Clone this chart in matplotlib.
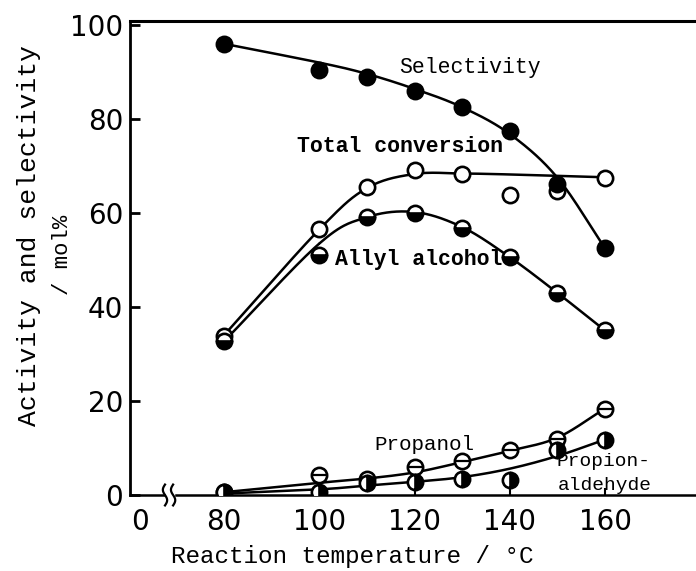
import numpy as np
import matplotlib
matplotlib.use("Agg")
import matplotlib.pyplot as plt
from matplotlib import transforms

# reaction temperature / degC
temps = [80, 100, 110, 120, 130, 140, 150, 160]

# measured points (mol%)
selectivity = [96.0, 90.5, 89.0, 86.0, 82.5, 77.5, 66.2, 52.5]
total_conv = [33.8, 56.5, 65.5, 69.2, 68.4, 63.9, 64.7, 67.5]
allyl = [32.7, 51.0, 59.1, 60.1, 56.8, 50.6, 43.0, 35.0]
propanol = [0.6, 4.2, 3.4, 5.9, 7.2, 9.5, 12.0, 18.4]
propanal = [0.6, 0.6, 2.6, 2.8, 3.4, 3.2, 9.5, 11.8]

selectivity_line = [96.0, 92.0, 89.6, 86.4, 82.5, 76.8, 67.5, 52.5]
total_line = [34.0, 56.5, 65.3, 68.3, 68.4, 68.2, 67.9, 67.6]
allyl_line = [32.7, 53.5, 59.1, 60.2, 57.0, 50.6, 43.0, 35.0]
propanol_line = [0.6, 2.6, 3.5, 4.8, 7.0, 9.4, 12.2, 18.4]
propanal_line = [0.3, 1.2, 2.0, 2.8, 3.8, 5.6, 8.3, 11.8]

xtick_vals = [0, 80, 100, 120, 140, 160]
ytick_vals = [0, 20, 40, 60, 80, 100]

W, H = 696, 571
mono = "Liberation Mono"


def catmull(xs, ys, n=30):
    p = np.column_stack([xs, ys]).astype(float)
    p = np.vstack([2 * p[0] - p[1], p, 2 * p[-1] - p[-2]])
    out = []
    t = np.linspace(0, 1, n)[:, None]
    for i in range(1, len(p) - 2):
        p0, p1, p2, p3 = p[i - 1], p[i], p[i + 1], p[i + 2]
        seg = 0.5 * (2 * p1 + (-p0 + p2) * t
                     + (2 * p0 - 5 * p1 + 4 * p2 - p3) * t ** 2
                     + (-p0 + 3 * p1 - 3 * p2 + p3) * t ** 3)
        out.append(seg)
    out = np.vstack(out)
    return out[:, 0], out[:, 1]


def px(x, y):
    return x / W, 1 - y / H


fig = plt.figure(figsize=(W / 100, H / 100), dpi=100)
ax = fig.add_axes([130 / W, 1 - 495 / H, 1 - 130 / W, 474 / H])

# broken axis: the "0" sits just left of the break
zero_pos = 62.4
ax.set_xlim(60.25, 179.1)
ax.set_ylim(0, 100.85)

lw = 1.8
for line in [selectivity_line, total_line, allyl_line, propanol_line, propanal_line]:
    xs, ys = catmull(temps, line)
    ax.plot(xs, ys, color="black", lw=lw, zorder=2, solid_capstyle="round")

ms, mew = 11, 1.9
ax.plot(temps, total_conv, "o", ms=ms, mew=mew, mfc="white", mec="black", zorder=3)
ax.plot(temps, allyl, "o", ms=ms, mew=mew, mfc="black", mfcalt="white",
        fillstyle="bottom", mec="black", zorder=3)
ax.plot(temps, propanol, "o", ms=ms, mew=mew, mfc="white", mec="black", zorder=4)
ax.plot(temps, propanol, "_", ms=ms, mew=1.6, color="black", zorder=4)
ax.plot(temps, propanal, "o", ms=ms, mew=mew, mfc="black", mfcalt="white",
        fillstyle="right", mec="black", zorder=5)
ax.plot(temps, selectivity, "o", ms=ms, mew=mew, mfc="black", mec="black", zorder=5)

# spines
for s in ["right", "bottom"]:
    ax.spines[s].set_visible(False)
ax.spines["left"].set_linewidth(2.0)
ax.spines["top"].set_linewidth(2.2)

# bottom axis with the break marks
ax.plot([60.25, 67.3], [0, 0], color="black", lw=lw, clip_on=False, zorder=2)
ax.plot([69.9, 179.1], [0, 0], color="black", lw=lw, clip_on=False, zorder=2)
trans = transforms.blended_transform_factory(ax.transData, ax.transAxes)
tt = np.linspace(0, 1, 40)
for x0 in [67.6, 69.3]:
    ax.plot(x0 + 0.45 * np.sin(2 * np.pi * tt), -0.022 + 0.044 * tt,
            color="black", lw=1.6, transform=trans, clip_on=False)

xpos = [zero_pos if v == 0 else v for v in xtick_vals]
ax.set_xticks(xpos)
ax.set_xticklabels([str(v) for v in xtick_vals])
ax.set_yticks(ytick_vals)
ax.set_yticklabels([str(v) for v in ytick_vals])
ax.tick_params(axis="x", direction="in", length=5, width=1.5, pad=9,
               labelsize=20)
ax.tick_params(axis="y", direction="in", length=7, width=2, pad=5,
               labelsize=20)
ax.xaxis.get_major_ticks()[0].tick1line.set_visible(False)

# curve labels
fig.text(*px(470, 67), "Selectivity", family=mono, fontsize=15.5,
         ha="center", va="center")
fig.text(*px(400, 147), "Total conversion", family=mono, fontsize=15.5,
         weight="bold", ha="center", va="center")
fig.text(*px(419, 259), "Allyl alcohol", family=mono, fontsize=15.5,
         weight="bold", ha="center", va="center")
fig.text(*px(424, 445), "Propanol", family=mono, fontsize=15,
         ha="center", va="center")
fig.text(*px(556, 462), "Propion-", family=mono, fontsize=14,
         ha="left", va="center")
fig.text(*px(558, 485), "aldehyde", family=mono, fontsize=14,
         ha="left", va="center")

# axis titles
fig.text(*px(29, 236), "Activity and selectivity", family=mono, fontsize=19,
         rotation=90, ha="center", va="center")
fig.text(*px(63, 255), "/ mol%", family=mono, fontsize=16,
         rotation=90, ha="center", va="center")
fig.text(*px(352, 556), "Reaction temperature / \u00b0C", family=mono,
         fontsize=17.5, ha="center", va="center")

fig.savefig("out.png", dpi=100)
